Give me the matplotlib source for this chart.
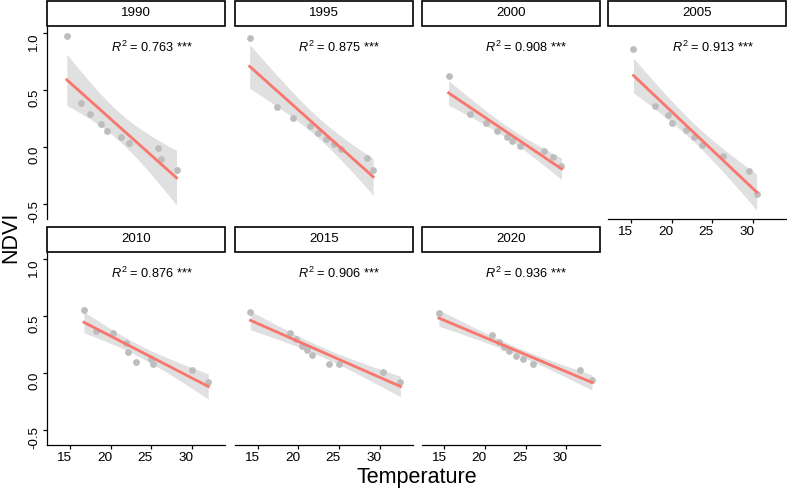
import numpy as np
import matplotlib
matplotlib.use("Agg")
import matplotlib.pyplot as plt
from matplotlib.patches import Rectangle
from matplotlib.transforms import ScaledTranslation

plt.rcParams['font.family'] = ['Liberation Sans', 'DejaVu Sans']
plt.rcParams['mathtext.fontset'] = 'custom'
plt.rcParams['mathtext.rm'] = 'Liberation Sans'
plt.rcParams['mathtext.it'] = 'Liberation Sans:italic'

# data (temperature vs NDVI per year)
years = ['1990', '1995', '2000', '2005', '2010', '2015', '2020']
r2_labels = ['0.763', '0.875', '0.908', '0.913', '0.876', '0.906', '0.936']

temp_1990 = [14.6, 16.4, 17.4, 18.8, 19.5, 21.3, 22.3, 25.8, 26.2, 28.1]
ndvi_1990 = [0.976, 0.39, 0.287, 0.20, 0.14, 0.088, 0.04, -0.01, -0.105, -0.205]
temp_1995 = [14.0, 17.35, 19.3, 21.4, 22.4, 23.4, 24.4, 25.3, 28.4, 29.2]
ndvi_1995 = [0.962, 0.354, 0.254, 0.184, 0.125, 0.067, 0.024, -0.02, -0.096, -0.20]
temp_2000 = [15.5, 18.2, 20.1, 21.5, 22.7, 23.3, 24.3, 27.3, 28.3, 29.4]
ndvi_2000 = [0.623, 0.29, 0.208, 0.143, 0.09, 0.053, 0.009, -0.032, -0.085, -0.167]
temp_2005 = [15.3, 17.9, 19.6, 20.0, 21.8, 22.7, 23.7, 26.3, 29.55, 30.45]
ndvi_2005 = [0.862, 0.36, 0.279, 0.208, 0.15, 0.091, 0.02, -0.079, -0.211, -0.416]
temp_2010 = [16.7, 18.2, 20.3, 21.85, 22.1, 23.1, 24.9, 25.2, 30.0, 32.0]
ndvi_2010 = [0.558, 0.368, 0.354, 0.268, 0.184, 0.096, 0.125, 0.084, 0.023, -0.079]
temp_2015 = [14.1, 19.0, 19.75, 20.4, 21.0, 21.7, 23.8, 25.0, 30.45, 32.55]
ndvi_2015 = [0.54, 0.356, 0.30, 0.242, 0.204, 0.163, 0.082, 0.082, 0.011, -0.079]
temp_2020 = [14.3, 20.8, 21.65, 22.3, 23.0, 23.8, 24.7, 25.85, 31.65, 33.15]
ndvi_2020 = [0.526, 0.336, 0.277, 0.228, 0.193, 0.154, 0.125, 0.084, 0.023, -0.061]

temps = [temp_1990, temp_1995, temp_2000, temp_2005, temp_2010, temp_2015, temp_2020]
ndvis = [ndvi_1990, ndvi_1995, ndvi_2000, ndvi_2005, ndvi_2010, ndvi_2015, ndvi_2020]

W, H = 787, 492
fig = plt.figure(figsize=(W / 100, H / 100), dpi=100)

col_left = [47.3, 235, 421.7, 608.3]
row_top = [27, 253]
pw, ph = 178, 192
strip_h = 25
t_crit = 2.306  # t quantile, df = 8

for i, yr in enumerate(years):
    r, c = divmod(i, 4)
    left = col_left[c]
    top = row_top[r]
    ax = fig.add_axes([left / W, 1 - (top + ph) / H, pw / W, ph / H])
    x = np.array(temps[i])
    y = np.array(ndvis[i])

    # linear fit with 95% confidence band
    b, a = np.polyfit(x, y, 1)
    xs = np.linspace(x.min(), x.max(), 80)
    yfit = a + b * xs
    resid = y - (a + b * x)
    s = np.sqrt(np.sum(resid ** 2) / (len(x) - 2))
    se = s * np.sqrt(1 / len(x) + (xs - x.mean()) ** 2 / np.sum((x - x.mean()) ** 2))
    ax.fill_between(xs, yfit - t_crit * se, yfit + t_crit * se, color='#999999', alpha=0.3, lw=0, zorder=1)
    ax.scatter(x, y, s=24, color='#bdbdbd', lw=0, zorder=2)
    ax.plot(xs, yfit, color='#F8766D', lw=2, zorder=3)

    ax.text(20, 0.835, r'$R^2$ = ' + r2_labels[i] + ' ***', fontsize=9.2, ha='left', va='baseline')

    ax.set_xlim(12.2, 34.1)
    ax.set_ylim(-0.632, 1.055)
    ax.set_xticks([15, 20, 25, 30])
    ax.set_yticks([-0.5, 0.0, 0.5, 1.0])
    ax.set_yticklabels(['-0.5', '0.0', '0.5', '1.0'])
    for sp in ['top', 'right']:
        ax.spines[sp].set_visible(False)
    for sp in ['left', 'bottom']:
        ax.spines[sp].set_linewidth(0.9)

    show_y = (c == 0)
    show_x = (r == 1) or (i == 3)
    ax.spines['left'].set_visible(show_y)
    ax.spines['bottom'].set_visible(show_x)
    ax.tick_params(axis='y', left=show_y, labelleft=show_y, length=3, width=0.9,
                   labelsize=9.5, labelrotation=90, pad=2)
    ax.tick_params(axis='x', bottom=show_x, labelbottom=show_x, length=3, width=0.9,
                   labelsize=9.7, pad=2)
    for lab in ax.get_yticklabels():
        lab.set_va('center')
        lab.set_transform(lab.get_transform() + ScaledTranslation(0, -0.08, fig.dpi_scale_trans))
    for lab in ax.get_xticklabels():
        lab.set_transform(lab.get_transform() + ScaledTranslation(-0.06, 0, fig.dpi_scale_trans))
    ax.patch.set_alpha(0)

    # facet strip
    sx = left / W
    sy = 1 - (top - 1) / H
    fig.patches.append(Rectangle((sx, sy), pw / W, (strip_h) / H, transform=fig.transFigure,
                                 facecolor='white', edgecolor='black', lw=1.2, clip_on=False))
    fig.text(sx + pw / W / 2, sy + strip_h / H / 2, yr, ha='center', va='center', fontsize=9.6)

fig.text(11 / W, 1 - 237 / H, 'NDVI', rotation=90, ha='center', va='center', fontsize=15.5)
fig.text(417 / W, 1 - 477 / H, 'Temperature', ha='center', va='center', fontsize=15.5)

fig.savefig('out.png', dpi=100)
